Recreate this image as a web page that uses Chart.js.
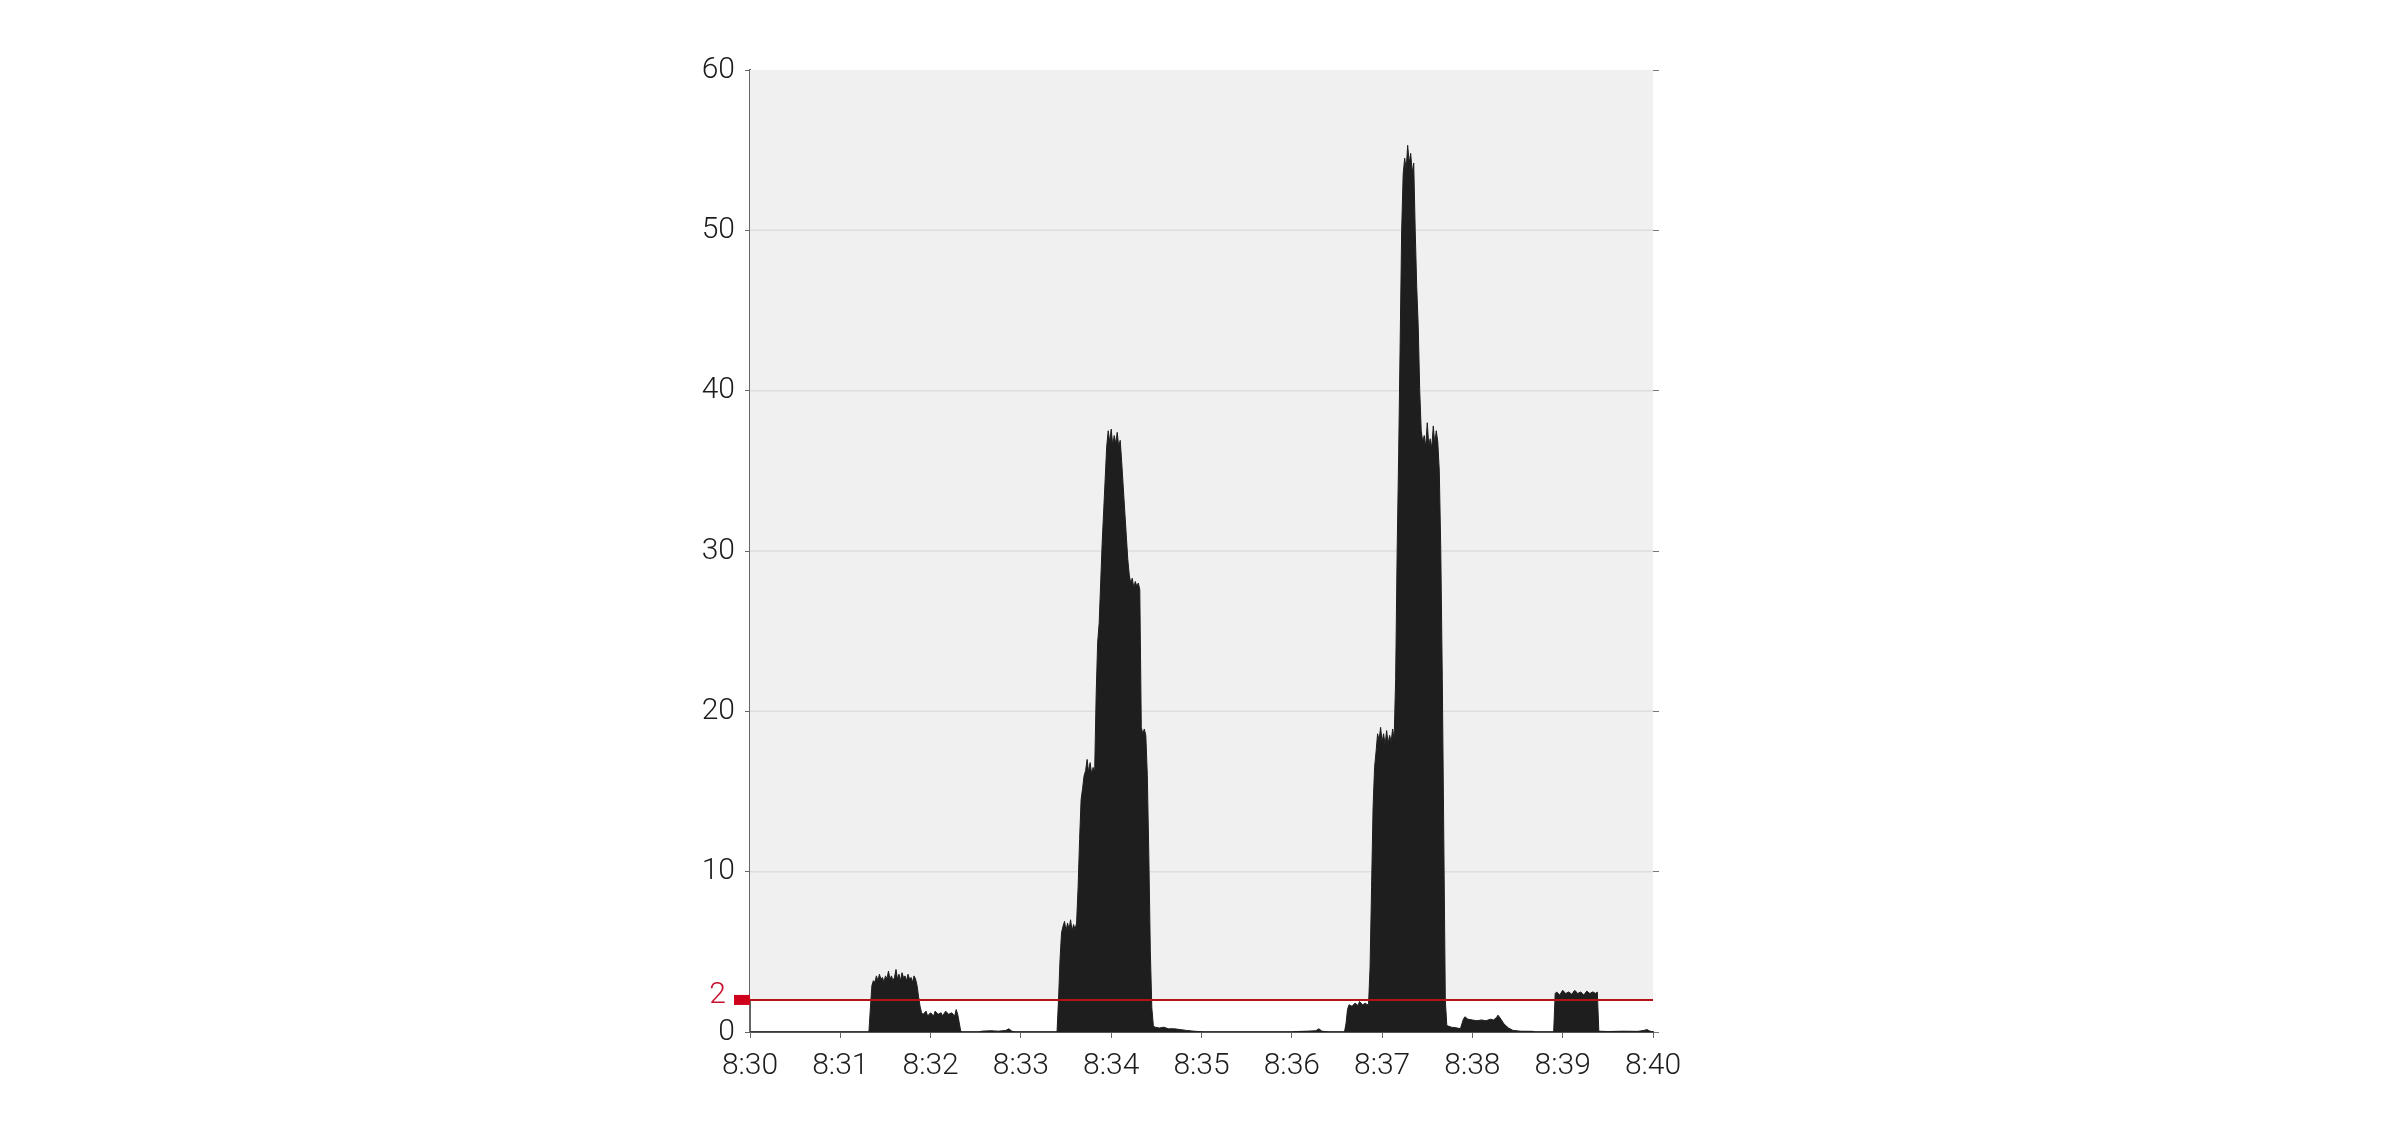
<!DOCTYPE html>
<html>
<head>
<meta charset="utf-8">
<script src="https://cdn.jsdelivr.net/npm/chart.js@4.4.1/dist/chart.umd.min.js"></script>
<style>
  html, body { margin: 0; padding: 0; background: #fff; }
  #wrap { width: 2400px; height: 1125px; position: relative; }
</style>
</head>
<body>
<div id="wrap"><canvas id="trafficChart"></canvas></div>
<script>
// seconds after 8:30 and the value read at that moment
const times = [
  0, 79, 80, 81, 82, 83, 84, 85, 86, 87, 88, 89, 90, 91, 92, 93, 94, 95, 96, 97, 98, 99,
  100, 101, 102, 103, 104, 105, 106, 107, 108, 109, 110, 111, 112, 113, 114, 115, 117, 118,
  120, 122, 123, 125, 127, 128, 130, 132, 134, 136, 137, 138, 139, 140, 141,
  152, 154, 160, 165, 170, 172, 174, 176,
  204, 205, 206, 207, 208, 209, 210, 211, 212, 213, 214, 215, 216, 217, 218, 219,
  220, 221, 222, 223, 224, 225, 226, 227, 228, 229, 230, 231, 232, 233, 234, 235, 236, 237, 238, 239,
  240, 241, 242, 243, 244, 245, 246, 247, 248, 249, 250, 251, 252, 253, 254, 255, 256, 257, 258, 259,
  260, 261, 262, 263, 264, 265, 266, 267, 268, 269, 272, 275, 278, 282, 286, 290, 295, 300, 301,
  360, 363, 370, 376, 378, 380, 383, 385, 395,
  396, 397, 398, 400, 402, 404, 405, 407, 409, 410, 411, 412, 413, 414, 415, 416, 417, 418, 419,
  420, 421, 422, 423, 424, 425, 426, 427, 428, 429, 430, 431, 432, 433, 434, 435, 436, 437, 438, 439,
  440, 441, 442, 443, 444, 445, 446, 447, 448, 449, 450, 451, 452, 453, 454, 455, 456, 457, 458, 459,
  460, 461, 462, 463, 466, 470, 472, 473, 474, 475, 477, 480, 483, 486, 489, 492, 494, 496, 497, 499,
  501, 504, 507, 512, 520, 522,
  534, 535, 536, 538, 540, 542, 544, 546, 548, 550, 552, 554, 556, 558, 560, 562, 563, 564,
  570, 580, 590, 594, 596, 598, 600
];
const values = [
  0, 0, 1.5, 2.9, 3.2, 3.1, 3.5, 3.2, 3.6, 3.3, 3.4, 3.1, 3.5, 3.3, 3.8, 3.3, 3.5, 3.2, 3.4, 3.9, 3.3, 3.6,
  3.2, 3.7, 3.4, 3.5, 3.2, 3.6, 3.3, 3.4, 3.1, 3.5, 3.3, 2.9, 2.2, 1.6, 1.2, 1.1, 1.3, 1.0,
  1.2, 1.0, 1.3, 1.1, 1.2, 1.0, 1.3, 1.1, 1.2, 1.0, 1.4, 1.1, 0.6, 0.05, 0,
  0, 0.05, 0.08, 0.05, 0.1, 0.2, 0.05, 0,
  0, 2, 4.5, 6.2, 6.6, 6.9, 6.3, 6.8, 6.4, 7.0, 6.3, 6.7, 6.4, 6.8, 9, 12,
  14.5, 15.2, 16.0, 16.3, 17.0, 16.2, 16.8, 16.1, 16.5, 16.2, 21, 24.3, 25.5, 28, 30.5, 32.5, 34.5, 36.5, 37.5, 36.8,
  37.6, 36.6, 37.2, 36.7, 37.4, 36.5, 36.9, 35.5, 34, 32.5, 31, 29.5, 28.5, 28.0, 28.3, 27.7, 28.1, 27.8, 28.0, 27.6,
  19.0, 18.6, 18.9, 18.5, 16, 11, 5, 1.5, 0.4, 0.3, 0.25, 0.3, 0.2, 0.2, 0.15, 0.1, 0.05, 0.02, 0,
  0, 0.03, 0.05, 0.08, 0.2, 0.05, 0.02, 0, 0,
  0.5, 1.4, 1.7, 1.6, 1.8, 1.65, 1.9, 1.7, 1.8, 1.7, 1.75, 4, 9, 14, 16.5, 17.5, 18.6, 18.2, 19.0,
  18.1, 18.6, 17.9, 18.8, 18.0, 18.5, 18.1, 18.9, 18.3, 22, 30, 36, 43, 50, 53.5, 54.5, 53.8, 55.3, 54.2, 54.8,
  53.6, 54.2, 50, 46.5, 44, 40, 37.5, 36.8, 37.2, 36.5, 38.0, 36.6, 37.0, 36.4, 37.8, 36.7, 37.5, 36.8, 35, 30,
  22, 12, 2, 0.4, 0.3, 0.25, 0.2, 0.5, 0.8, 0.95, 0.8, 0.75, 0.7, 0.75, 0.7, 0.8, 0.75, 0.9, 1.05, 0.8,
  0.5, 0.25, 0.1, 0.05, 0.04, 0,
  0, 2.4, 2.5, 2.3, 2.6, 2.4, 2.5, 2.35, 2.6, 2.4, 2.5, 2.3, 2.55, 2.4, 2.5, 2.4, 2.5, 0.05,
  0.03, 0.05, 0.04, 0.1, 0.15, 0.05, 0.02
];
const xTickLabels = ['8:30', '8:31', '8:32', '8:33', '8:34', '8:35', '8:36', '8:37', '8:38', '8:39', '8:40'];
const yTicks = [0, 10, 20, 30, 40, 50, 60];
const threshold = 2;

const points = times.map((t, i) => ({ x: t, y: values[i] }));
const tickFont = { family: 'Roboto, "Liberation Sans", sans-serif', size: 30, weight: 300 };

// grey band above the threshold, red threshold line with its marker and label
const thresholdPlugin = {
    id: 'thresholdPlugin',
    beforeDatasetsDraw(chart) {
        const { ctx, chartArea, scales } = chart;
        const yTop = scales.y.getPixelForValue(60);
        const yThr = scales.y.getPixelForValue(threshold);
        ctx.save();
        ctx.fillStyle = '#f0f0f0';
        ctx.fillRect(chartArea.left, yTop, chartArea.right - chartArea.left, yThr - yTop);
        // grid lines on top of the band
        ctx.strokeStyle = '#dedede';
        ctx.lineWidth = 1.5;
        yTicks.slice(1, -1).forEach(v => {
            const py = scales.y.getPixelForValue(v);
            ctx.beginPath();
            ctx.moveTo(chartArea.left, py);
            ctx.lineTo(chartArea.right, py);
            ctx.stroke();
        });
        ctx.restore();
    },
    afterDatasetsDraw(chart) {
        const { ctx, chartArea, scales } = chart;
        const yThr = scales.y.getPixelForValue(threshold);
        ctx.save();
        ctx.strokeStyle = '#b3121b';
        ctx.lineWidth = 2;
        ctx.beginPath();
        ctx.moveTo(chartArea.left, yThr);
        ctx.lineTo(chartArea.right, yThr);
        ctx.stroke();
        ctx.fillStyle = '#d0021b';
        ctx.fillRect(chartArea.left - 16, yThr - 5, 16, 10);
        ctx.font = '300 30px Roboto, "Liberation Sans", sans-serif';
        ctx.textAlign = 'right';
        ctx.textBaseline = 'middle';
        ctx.fillStyle = '#c8102e';
        ctx.fillText(String(threshold), chartArea.left - 24, yThr - 4);
        ctx.restore();
    }
};

const config = {
    type: 'line',
    data: {
        datasets: [{
            data: points,
            borderColor: '#1e1e1e',
            backgroundColor: '#1e1e1e',
            borderWidth: 1,
            pointRadius: 0,
            tension: 0,
            fill: 'origin'
        }]
    },
    options: {
        responsive: true,
        maintainAspectRatio: false,
        animation: false,
        layout: {
            padding: { left: 650, right: 737, top: 70, bottom: 33 }
        },
        plugins: {
            legend: { display: false },
            tooltip: { enabled: false }
        },
        scales: {
            x: {
                type: 'linear',
                min: 0,
                max: 600,
                ticks: {
                    stepSize: 60,
                    font: tickFont,
                    color: '#1c1c1c',
                    padding: 10,
                    maxRotation: 0,
                    callback: (v) => xTickLabels[Math.round(v / 60)]
                },
                grid: {
                    drawOnChartArea: false,
                    tickLength: 6,
                    color: '#666'
                },
                border: { color: '#555', width: 2 },
                afterFit: (scale) => { scale.height = 60; }
            },
            y: {
                min: 0,
                max: 60,
                ticks: {
                    stepSize: 10,
                    font: tickFont,
                    color: '#1c1c1c',
                    padding: 10,
                    autoSkip: false
                },
                grid: {
                    drawOnChartArea: false,
                    tickLength: 5,
                    color: '#666'
                },
                border: { color: '#666', width: 2 },
                afterFit: (scale) => { scale.width = 100; }
            },
            y2: {
                position: 'right',
                min: 0,
                max: 60,
                ticks: { stepSize: 10, display: false },
                grid: {
                    drawOnChartArea: false,
                    tickLength: 6,
                    color: '#777'
                },
                border: { display: false },
                afterFit: (scale) => { scale.width = 10; }
            }
        }
    },
    plugins: [thresholdPlugin]
};

new Chart(document.getElementById('trafficChart'), config);
</script>
</body>
</html>
